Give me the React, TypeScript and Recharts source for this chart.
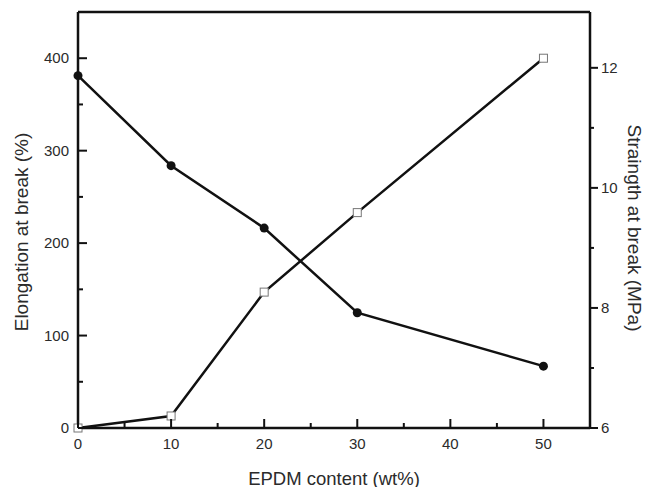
import { ComposedChart, Line, XAxis, YAxis } from 'recharts';

// EPDM loading (wt%)
const epdmContent = [0, 10, 20, 30, 50];
// Elongation at break (%), open squares, left axis
const elongation = [0, 13, 147, 233, 400];
// Strength at break (MPa), filled circles, right axis
const strength = [11.87, 10.37, 9.33, 7.92, 7.03];

const xTicks = [0, 5, 10, 15, 20, 25, 30, 35, 40, 45, 50];
const leftTicks = [0, 50, 100, 150, 200, 250, 300, 350, 400];
const rightTicks = [6, 7, 8, 9, 10, 11, 12];

const data = epdmContent.map((c, i) => ({
  content: c,
  elongation: elongation[i],
  strength: strength[i],
}));

const FONT = '"Liberation Sans", Arial, sans-serif';
const TEXT = '#2b2b2b';
const INK = '#111';

const BottomTick = (props: any) => {
  const { x, y, payload } = props;
  const major = payload.value % 10 === 0;
  return (
    <g>
      <line x1={x} y1={y} x2={x} y2={y - (major ? 9 : 5)} stroke={INK} strokeWidth={2} />
      {major && (
        <text x={x} y={y + 21} textAnchor="middle" fontSize={15} fill={TEXT} fontFamily={FONT}>
          {payload.value}
        </text>
      )}
    </g>
  );
};

const LeftTick = (props: any) => {
  const { x, y, payload } = props;
  const major = payload.value % 100 === 0;
  return (
    <g>
      <line x1={x} y1={y} x2={x + (major ? 9 : 5)} y2={y} stroke={INK} strokeWidth={2} />
      {major && (
        <text x={x - 9} y={y + 5} textAnchor="end" fontSize={15} fill={TEXT} fontFamily={FONT}>
          {payload.value}
        </text>
      )}
    </g>
  );
};

const RightTick = (props: any) => {
  const { x, y, payload } = props;
  const major = payload.value % 2 === 0;
  return (
    <g>
      <line x1={x} y1={y} x2={x + (major ? 8 : 4)} y2={y} stroke={INK} strokeWidth={2} />
      {major && (
        <text x={x + 11} y={y + 5} textAnchor="start" fontSize={15} fill={TEXT} fontFamily={FONT}>
          {payload.value}
        </text>
      )}
    </g>
  );
};

// axis title placed relative to the axis viewBox
const AxisTitle = (props: any) => {
  const { viewBox, value, side, size } = props;
  const { x, y, width, height } = viewBox;
  let cx = x + width / 2;
  let cy = y + height / 2;
  let angle = 0;
  if (side === 'left') {
    cx = x - 56;
    cy = y + height / 2 + 12;
    angle = -90;
  } else if (side === 'right') {
    cx = x + width + 43;
    cy = y + height / 2 + 8;
    angle = 90;
  } else {
    cy = y + 50;
  }
  return (
    <text
      x={cx}
      y={cy}
      transform={angle ? `rotate(${angle} ${cx} ${cy})` : undefined}
      textAnchor="middle"
      dominantBaseline="central"
      fontSize={size}
      fill={TEXT}
      fontFamily={FONT}
    >
      {value}
    </text>
  );
};

const SquareDot = (props: any) => {
  const { cx, cy, index } = props;
  if (cx == null || cy == null) return <g key={`sq-${index}`} />;
  return (
    <rect
      key={`sq-${index}`}
      x={cx - 4}
      y={cy - 4}
      width={8}
      height={8}
      fill="#fff"
      stroke="#777"
      strokeWidth={1}
    />
  );
};

export default function App() {
  return (
    <div style={{ position: 'absolute', left: 0, top: 0, background: '#fff' }}>
      <ComposedChart
        width={649}
        height={487}
        data={data}
        margin={{ top: 11, right: 58, bottom: 58, left: 77 }}
      >
        <XAxis
          dataKey="content"
          type="number"
          domain={[0, 55]}
          ticks={xTicks}
          interval={0}
          height={1}
          tickSize={0}
          tickMargin={0}
          axisLine={{ stroke: INK, strokeWidth: 2.5 }}
          tickLine={false}
          tick={<BottomTick />}
          label={<AxisTitle value="EPDM content (wt%)" side="bottom" size={18.5} />}
        />
        <XAxis
          xAxisId="top"
          orientation="top"
          dataKey="content"
          type="number"
          domain={[0, 55]}
          height={1}
          tick={false}
          tickLine={false}
          axisLine={{ stroke: INK, strokeWidth: 2.5 }}
        />
        <YAxis
          yAxisId="left"
          type="number"
          domain={[0, 450]}
          ticks={leftTicks}
          interval={0}
          width={1}
          tickSize={0}
          tickMargin={0}
          axisLine={{ stroke: INK, strokeWidth: 2.5 }}
          tickLine={false}
          tick={<LeftTick />}
          label={<AxisTitle value="Elongation at break (%)" side="left" size={19} />}
        />
        <YAxis
          yAxisId="right"
          orientation="right"
          type="number"
          domain={[6, 12.93]}
          ticks={rightTicks}
          interval={0}
          width={1}
          tickSize={0}
          tickMargin={0}
          axisLine={{ stroke: INK, strokeWidth: 2.5 }}
          tickLine={false}
          tick={<RightTick />}
          label={<AxisTitle value="Straingth at break (MPa)" side="right" size={19} />}
        />
        <Line
          yAxisId="left"
          type="linear"
          dataKey="elongation"
          stroke={INK}
          strokeWidth={2.5}
          dot={<SquareDot />}
          isAnimationActive={false}
        />
        <Line
          yAxisId="right"
          type="linear"
          dataKey="strength"
          stroke={INK}
          strokeWidth={2.5}
          dot={{ r: 4.5, fill: INK, stroke: INK, strokeWidth: 0 }}
          isAnimationActive={false}
        />
      </ComposedChart>
    </div>
  );
}
